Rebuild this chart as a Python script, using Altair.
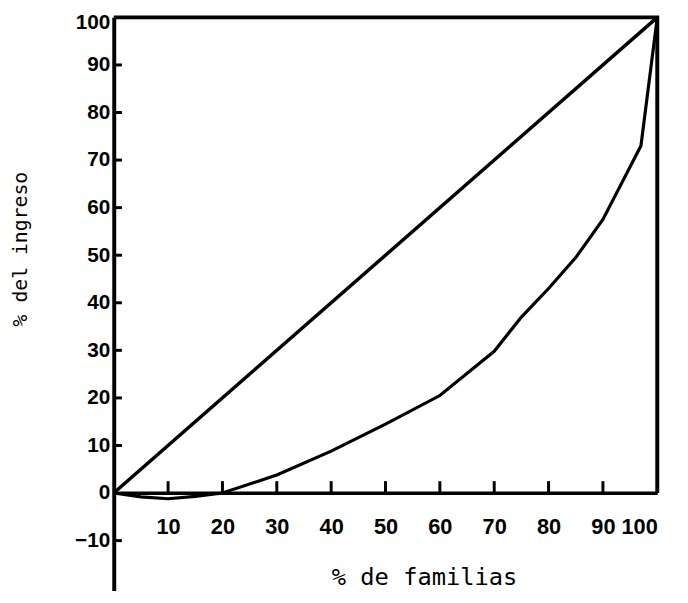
import altair as alt
import pandas as pd

# Lorenz curve readings (% de familias, % del ingreso)
lorenz_x = [0, 5, 10, 15, 20, 30, 40, 50, 60, 70, 75, 80, 85, 90, 97, 100]
lorenz_y = [0, -0.8, -1.2, -0.7, 0, 3.8, 8.8, 14.5, 20.5, 29.8, 37, 43, 49.5, 57.5, 73, 100]

# line of perfect equality
equal_x = [0, 100]
equal_y = [0, 100]

# frame (top and right sides)
frame_x = [0, 100, 100]
frame_y = [100, 100, 0]

x_tick_labels = [10, 20, 30, 40, 50, 60, 70, 80, 90, 100]
y_tick_labels = [-10, 0, 10, 20, 30, 40, 50, 60, 70, 80, 90, 100]
x_tick_marks = [10, 20, 30, 40, 50, 60, 70, 80, 90]
y_tick_marks = [-10, 10, 20, 30, 40, 50, 60, 70, 80, 90]

lorenz = pd.DataFrame({"x": lorenz_x, "y": lorenz_y})
equal = pd.DataFrame({"x": equal_x, "y": equal_y})
frame = pd.DataFrame({"x": frame_x, "y": frame_y, "o": list(range(len(frame_x)))})
xt = pd.DataFrame({"x": x_tick_marks, "y": [0] * len(x_tick_marks), "y2": [2.5] * len(x_tick_marks)})
yt = pd.DataFrame({"y": y_tick_marks, "x": [0] * len(y_tick_marks), "x2": [1.5] * len(y_tick_marks)})

xscale = alt.Scale(domain=[0, 100], nice=False, zero=False)
yscale = alt.Scale(domain=[-20.5, 100], nice=False, zero=False)

x_axis = alt.Axis(
    orient="bottom", offset=-99, values=x_tick_labels, ticks=False, grid=False,
    domainColor="black", domainWidth=3.5,
    labelFont="Liberation Sans", labelFontWeight="bold", labelFontSize=22,
    labelColor="black", labelPadding=24,
    title="% de familias", titleFont="DejaVu Sans Mono", titleFontSize=24,
    titleFontWeight="normal", titleColor="black",
    titleX=314, titleY=86, titleBaseline="middle", titleAlign="center",
)
y_axis = alt.Axis(
    orient="left", values=y_tick_labels, ticks=False, grid=False,
    domainColor="black", domainWidth=4,
    labelFont="Liberation Sans", labelFontWeight="bold", labelFontSize=21,
    labelColor="black", labelPadding=4,
    labelFlush=True, labelFlushOffset=6,
    title="% del ingreso", titleFont="DejaVu Sans Mono", titleFontSize=20,
    titleFontWeight="normal", titleColor="black",
    titleX=-94, titleY=234, titleBaseline="middle", titleAlign="center", titleAngle=-90,
)

X = alt.X("x:Q", scale=xscale, axis=x_axis)
Y = alt.Y("y:Q", scale=yscale, axis=y_axis)

l_lorenz = alt.Chart(lorenz).mark_line(color="black", strokeWidth=3.2).encode(x=X, y=Y)
l_equal = alt.Chart(equal).mark_line(color="black", strokeWidth=3.5).encode(x=X, y=Y)
l_frame = alt.Chart(frame).mark_line(color="black", strokeWidth=4).encode(x=X, y=Y, order="o:Q")
l_xt = alt.Chart(xt).mark_rule(color="black", strokeWidth=3).encode(x=X, y=Y, y2="y2:Q")
l_yt = alt.Chart(yt).mark_rule(color="black", strokeWidth=3).encode(y=Y, x=X, x2="x2:Q")

chart = alt.layer(l_frame, l_equal, l_lorenz, l_xt, l_yt).properties(
    width=550, height=580,
    autosize=alt.AutoSizeParams(type="none"),
    padding={"left": 107, "top": 6, "right": 23, "bottom": 0},
    background="white",
).configure_view(stroke=None)

chart.save("out.html", embed_options={"renderer": "svg", "actions": False})
